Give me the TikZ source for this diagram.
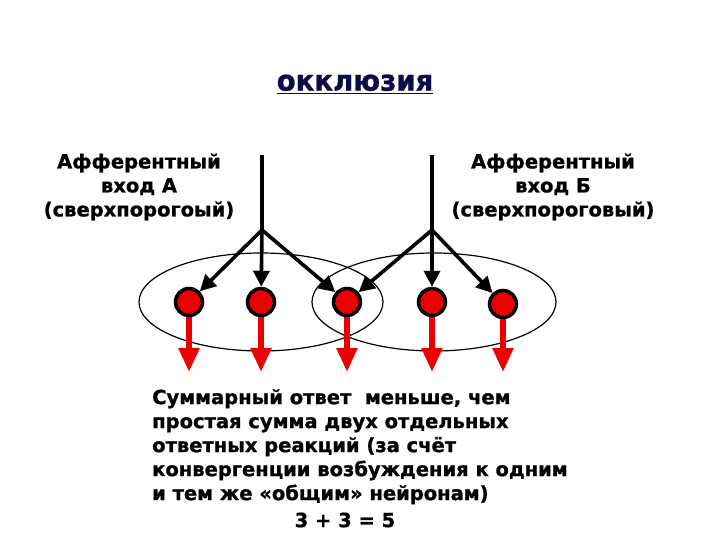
\documentclass[tikz,border=0pt]{standalone}
\usepackage{fontspec}
\setmainfont{DejaVu Sans}[BoldFeatures={FakeBold=1.0}]
\usetikzlibrary{arrows.meta}
\definecolor{navy}{RGB}{12,12,72}
\definecolor{nred}{RGB}{235,0,0}
\tikzset{
  x=1pt,y=-1pt,
  lbl/.style={font=\bfseries\fontsize{19.5}{24}\selectfont,align=center,inner sep=0},
  neuron/.style={circle,draw=black,line width=3.5pt,fill=nred,minimum size=27pt,inner sep=0},
  inarrow/.style={line width=3.6pt,-{Triangle[length=16pt,width=16pt]}},
  outarrow/.style={draw=nred,line width=5.5pt,-{Triangle[length=24pt,width=20pt]}},
  field/.style={draw=black,line width=1.2pt}
}
\begin{document}
\begin{tikzpicture}
\useasboundingbox (0,0) rectangle (720,540);
% title
\node[font=\bfseries\fontsize{24}{26}\selectfont,text=navy,inner sep=0] (title) at (355,84) {\scalebox{1.15}[1.2]{\underline{окклюзия}}};
% labels
\node[lbl] (la) at (139,187) {Афферентный\\вход А\\(сверхпорогоый)};
\node[lbl] (lb) at (553,187) {Афферентный\\вход Б\\(сверхпороговый)};
% fields
\draw[field] (261,302) ellipse [x radius=122, y radius=49];
\draw[field] (434,302) ellipse [x radius=122, y radius=49];
% coordinates
\coordinate (tA) at (262,155);
\coordinate (bA) at (262,230);
\coordinate (tB) at (432,155);
\coordinate (bB) at (432,230);
\coordinate (e1) at (189,372);
\coordinate (e2) at (261,372);
\coordinate (e3) at (347,372);
\coordinate (e4) at (432,372);
\coordinate (e5) at (503,372);
% output arrows
\draw[outarrow] (189,303) -- (e1);
\draw[outarrow] (261,303) -- (e2);
\draw[outarrow] (347,303) -- (e3);
\draw[outarrow] (432,303) -- (e4);
\draw[outarrow] (503,305) -- (e5);
% neurons
\node[neuron] (n1) at (189,302) {};
\node[neuron] (n2) at (261,302) {};
\node[neuron] (n3) at (347,302) {};
\node[neuron] (n4) at (432,302) {};
\node[neuron] (n5) at (503,304) {};
% inputs
\draw[line width=3.6pt] (tA) -- (bA);
\draw[line width=3.6pt] (tB) -- (bB);
\draw[inarrow] (bA) -- (n1);
\draw[inarrow] (bA) -- (n2);
\draw[inarrow] (bA) -- (n3);
\draw[inarrow] (bB) -- (n3);
\draw[inarrow] (bB) -- (n4);
\draw[inarrow] (bB) -- (n5);
% bottom text
\node[lbl,align=left,anchor=north west] (txt) at (152,389) {Суммарный ответ\ \ меньше, чем\\простая сумма двух отдельных\\ответных реакций (за счёт\\конвергенции возбуждения к одним\\и тем же «общим» нейронам)};
\node[lbl] (eq) at (345,520) {3 + 3 = 5};
\end{tikzpicture}
\end{document}
